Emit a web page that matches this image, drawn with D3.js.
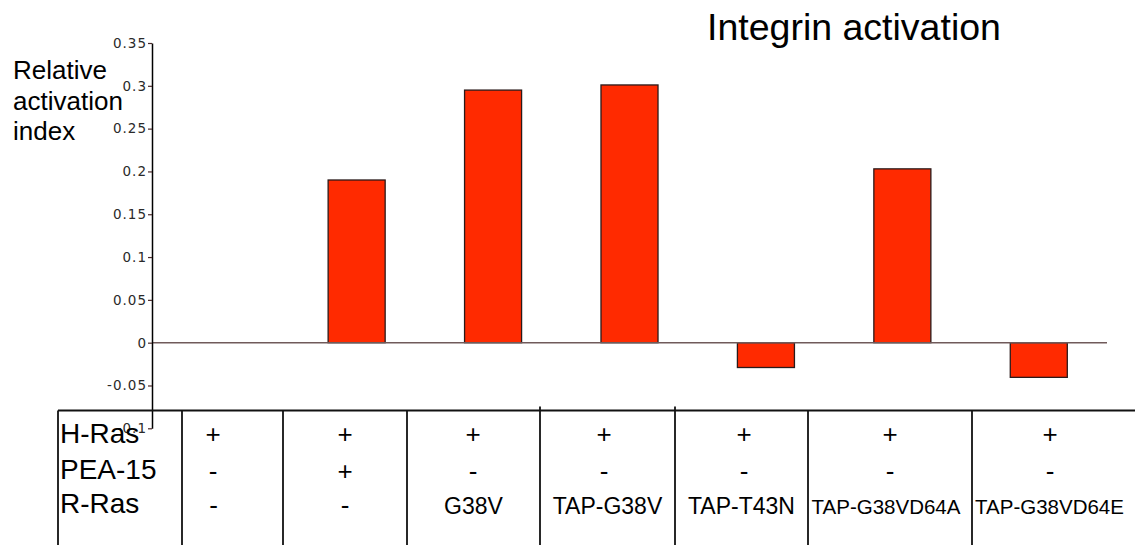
<!DOCTYPE html>
<html>
<head>
<meta charset="utf-8">
<script src="https://cdn.jsdelivr.net/npm/d3@7"></script>
<style>
  html, body { margin: 0; padding: 0; background: #fff; }
  svg { display: block; }
</style>
</head>
<body>
<script>
// ---------- data ----------
const categories = ["c1", "c2", "c3", "c4", "c5", "c6", "c7"];
const values = [0, 0.190, 0.295, 0.301, -0.029, 0.203, -0.0405];
const yTickValues = [0.35, 0.3, 0.25, 0.2, 0.15, 0.1, 0.05, 0, -0.05, -0.1];
const yTickLabels = ["0.35", "0.3", "0.25", "0.2", "0.15", "0.1", "0.05", "0", "-0.05", "-0.1"];
const rowNames = ["H-Ras", "PEA-15", "R-Ras"];
const hRas = ["+", "+", "+", "+", "+", "+", "+"];
const pea15 = ["-", "+", "-", "-", "-", "-", "-"];
const rRas = ["-", "-", "G38V", "TAP-G38V", "TAP-T43N", "TAP-G38VD64A", "TAP-G38VD64E"];
const title = "Integrin activation";
const yLabelLines = ["Relative", "activation", "index"];

// ---------- layout ----------
const W = 1135, H = 545;
const svg = d3.select("body").append("svg").attr("width", W).attr("height", H);

const x = d3.scaleBand().domain(categories).range([152, 1107])
  .paddingInner(0.582).paddingOuter(0.291);
const y = d3.scaleLinear().domain([-0.1, 0.35]).range([428.3, 43]);

// title
svg.append("text").attr("x", 707).attr("y", 40)
  .attr("font-family", "Liberation Sans, Arial, sans-serif")
  .attr("font-size", 37.5).attr("fill", "#000").text(title);

// y label
svg.append("g").selectAll("text").data(yLabelLines).join("text")
  .attr("x", 13).attr("y", (d, i) => 79 + i * 30.5)
  .attr("font-family", "Liberation Sans, Arial, sans-serif")
  .attr("font-size", 26).attr("fill", "#000").text(d => d);

// bars
svg.append("g").selectAll("rect")
  .data(categories.map((c, i) => ({c, v: values[i]})).filter(d => d.v !== 0))
  .join("rect")
  .attr("x", d => x(d.c))
  .attr("width", x.bandwidth())
  .attr("y", d => y(Math.max(0, d.v)))
  .attr("height", d => Math.abs(y(d.v) - y(0)))
  .attr("fill", "#ff2a00")
  .attr("stroke", "#2a1a1a").attr("stroke-width", 1.3);

// zero line
svg.append("line")
  .attr("x1", 152).attr("x2", 1107).attr("y1", y(0)).attr("y2", y(0))
  .attr("stroke", "#705a5a").attr("stroke-width", 1.5);

// y axis
const yAxis = d3.axisLeft(y).tickValues(yTickValues)
  .tickFormat((d, i) => yTickLabels[i]).tickSize(4).tickSizeOuter(0).tickPadding(3);
const gy = svg.append("g").attr("transform", "translate(152,0)").call(yAxis);
gy.attr("font-size", null).attr("font-family", null);
gy.select(".domain").attr("stroke", "#000").attr("stroke-width", 1.5);
gy.selectAll(".tick line").attr("stroke", "#4a2a2a").attr("stroke-width", 1.2);
gy.selectAll(".tick text")
  .style("font-family", "'DejaVu Sans', Verdana, sans-serif")
  .style("font-size", "13.5px").style("letter-spacing", "1px")
  .attr("fill", "#2a2a2a").attr("x", -5);

// table
const colEdges = [182, 283, 407, 540, 675, 808, 972, 1135];
const textCenters = [213, 345, 473, 604, 744, 890, 1050];
const tableTop = 410.5;
const tg = svg.append("g");
tg.append("line").attr("x1", 58).attr("x2", 1135).attr("y1", tableTop).attr("y2", tableTop)
  .attr("stroke", "#111").attr("stroke-width", 1.8);
const vlines = [58].concat(colEdges.slice(0, 7));
tg.selectAll("line.v").data(vlines).join("line").attr("class", "v")
  .attr("x1", d => d).attr("x2", d => d)
  .attr("y1", d => (d === 540 || d === 675) ? 406.5 : tableTop).attr("y2", H)
  .attr("stroke", "#111").attr("stroke-width", 1.8);

const rowBase = [443, 479, 513];
tg.selectAll("text.rn").data(rowNames).join("text").attr("class", "rn")
  .attr("x", 60).attr("y", (d, i) => rowBase[i])
  .attr("font-family", "Liberation Sans, Arial, sans-serif")
  .attr("font-size", 28).attr("fill", "#000").text(d => d);

const cellBase = [443, 479.5, 514];
[hRas, pea15, rRas].forEach((row, r) => {
  const t = tg.append("g").selectAll("text").data(row).join("text")
    .attr("x", (d, i) => r === 2 ? (colEdges[i] + colEdges[i + 1]) / 2 - (i === 0 ? 19 : 0) - (i >= 5 ? 4 : 0) : textCenters[i])
    .attr("y", cellBase[r])
    .attr("text-anchor", "middle")
    .attr("font-family", "Liberation Sans, Arial, sans-serif")
    .attr("font-size", d => (d === "+" || d === "-") ? 26 : (d.length > 10 ? 20.5 : 23))
    .attr("fill", "#000").text(d => d);
});
</script>
</body>
</html>
